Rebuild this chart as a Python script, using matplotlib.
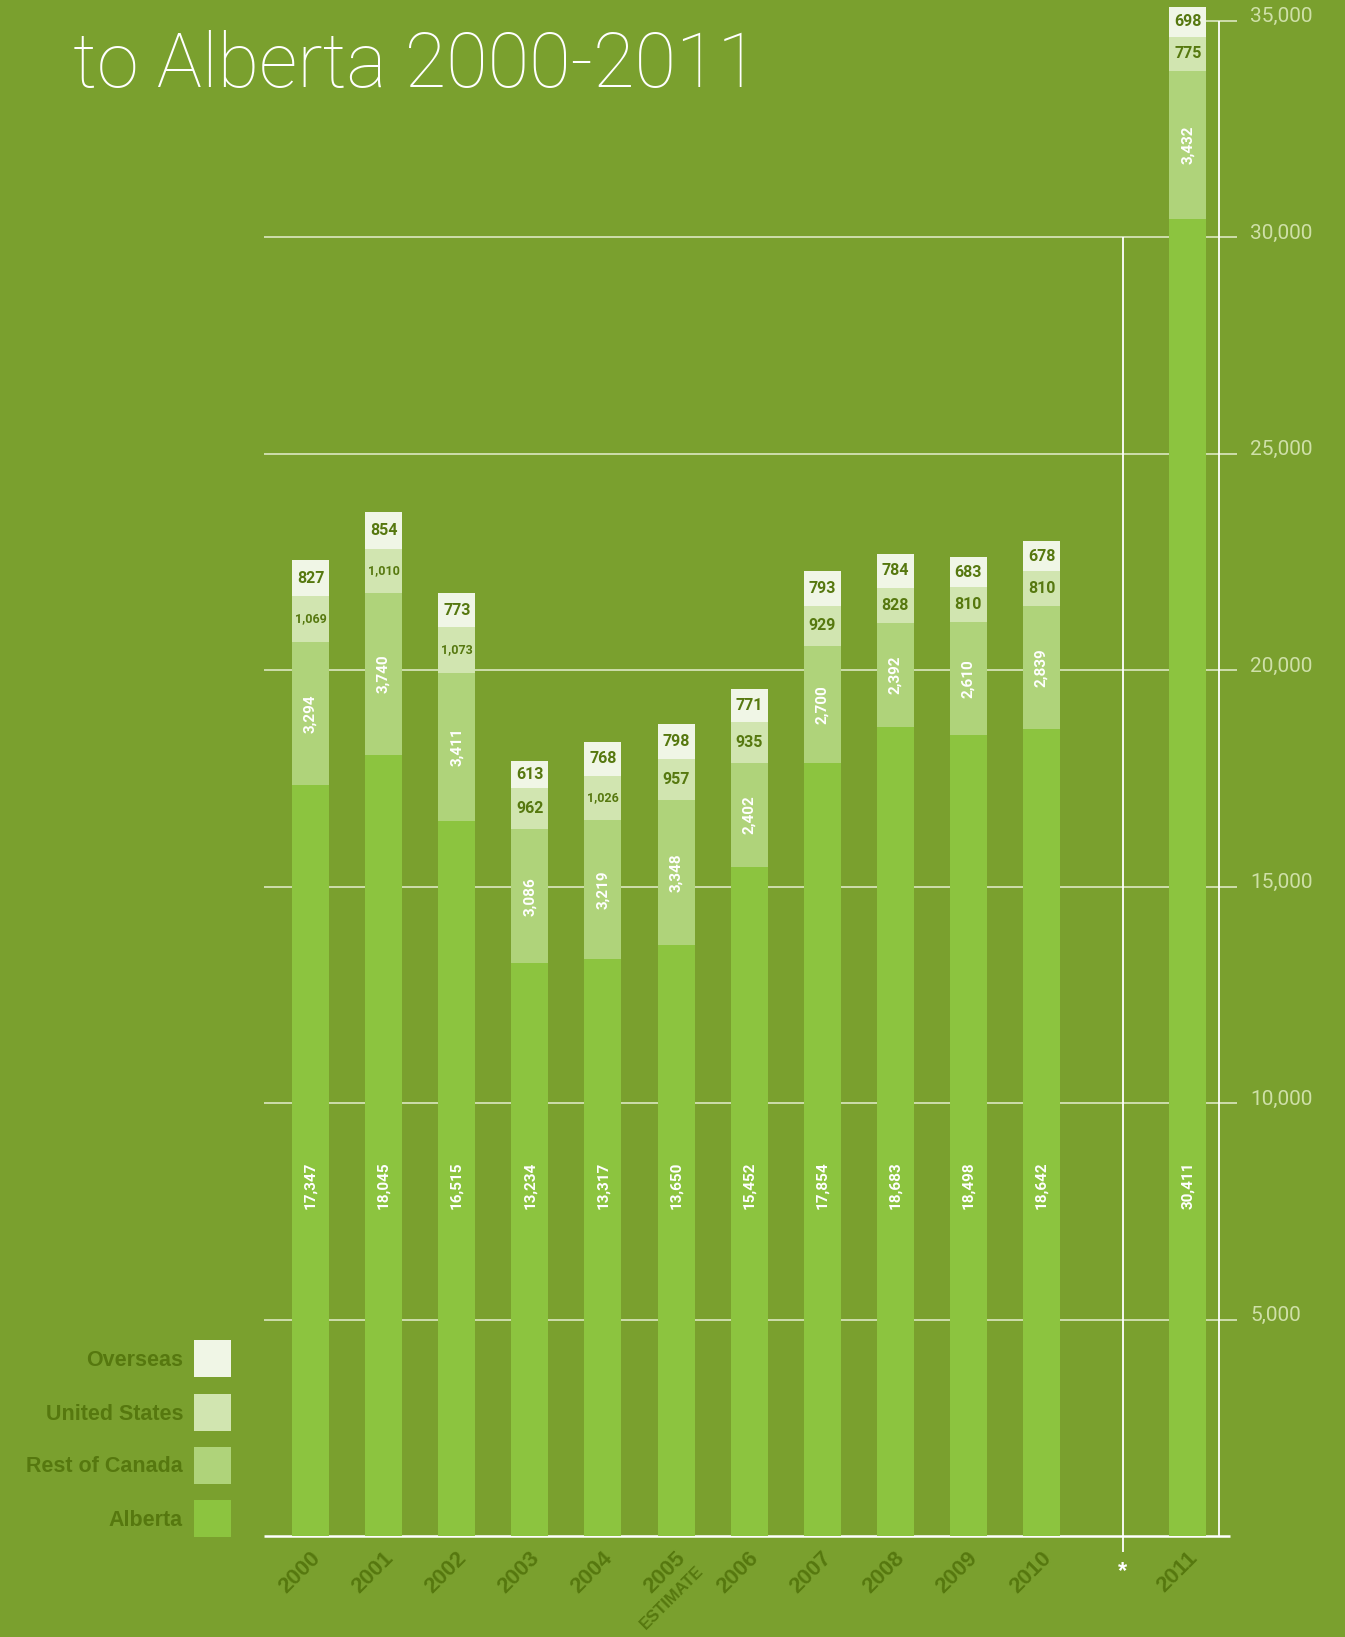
import numpy as np
import matplotlib
matplotlib.use("Agg")
import matplotlib.pyplot as plt
from matplotlib import font_manager
from matplotlib.transforms import offset_copy
from matplotlib.patches import Rectangle

# ---------------- data ----------------
years = ['2000', '2001', '2002', '2003', '2004', '2005', '2006',
         '2007', '2008', '2009', '2010', '2011']
alberta = [17347, 18045, 16515, 13234, 13317, 13650, 15452, 17854, 18683, 18498, 18642, 30411]
rest_of_canada = [3294, 3740, 3411, 3086, 3219, 3348, 2402, 2700, 2392, 2610, 2839, 3432]
united_states = [1069, 1010, 1073, 962, 1026, 957, 935, 929, 828, 810, 810, 775]
overseas = [827, 854, 773, 613, 768, 798, 771, 793, 784, 683, 678, 698]
series_names = ['Alberta', 'Rest of Canada', 'United States', 'Overseas']
yticks = [5000, 10000, 15000, 20000, 25000, 30000, 35000]
title = 'to Alberta 2000-2011'
estimate_note = 'ESTIMATE'

# ---------------- style ----------------
BG = '#7aa02e'
COLORS = ['#8cc43f', '#afd37a', '#d1e5b0', '#f0f6e6']
DARK = '#56780f'
TICKC = '#cfe0a8'
GRIDC = '#d4e2b6'

names = {f.name for f in font_manager.fontManager.ttflist}
def pick(*cands):
    for c in cands:
        if c in names:
            return c
    return 'DejaVu Sans'
NARROW = pick('Liberation Sans Narrow', 'Roboto', 'Liberation Sans')
SANS = pick('Liberation Sans', 'DejaVu Sans')
LIGHT = pick('Roboto', 'Lato', 'DejaVu Sans')

W, H = 1345, 1637
DPI = 100
fig = plt.figure(figsize=(W / DPI, H / DPI), dpi=DPI, facecolor=BG)
ax = fig.add_axes([0, 0, 1, 1])
ax.set_facecolor(BG)
ax.axis('off')

# layout: pixel geometry of the reference
X0 = 310.5      # px of first bar centre
SLOT = 73.1     # px per category slot
Y0 = 1536.0     # px (from top) of the zero line
PXK = 43.3      # px per 1000 units
ax.set_xlim((0 - X0) / SLOT, (W - X0) / SLOT)
ax.set_ylim(-(H - Y0) / PXK * 1000, Y0 / PXK * 1000)

def px_x(px):
    return (px - X0) / SLOT

# positions: a gap slot between 2010 and 2011
pos = np.array([i if i < 11 else i + 1 for i in range(len(years))], dtype=float)
bw = 37 / SLOT

# gridlines
grid_left, grid_right = px_x(264), px_x(1237)
for v in yticks:
    if v == 35000:
        ax.hlines(v, px_x(1190), grid_right, color=GRIDC, lw=1.3, zorder=1)
    else:
        ax.hlines(v, grid_left, grid_right, color=GRIDC, lw=1.3, zorder=1)
ax.hlines(0, grid_left, px_x(1230), color='white', lw=1.8, zorder=1)
# vertical dividers
ax.vlines(px_x(1219), 0, 35000, color='white', lw=1.3, zorder=1)
ax.vlines(px_x(1123), -16 / PXK * 1000, 30000, color='white', lw=1.3, zorder=1)

# stacked bars
stack = [alberta, rest_of_canada, united_states, overseas]
bottom = np.zeros(len(years))
for vals, col in zip(stack, COLORS):
    ax.bar(pos, vals, bw, bottom=bottom, color=col, zorder=2, linewidth=0)
    bottom = bottom + np.array(vals)

# value labels
alberta_label_y = 8100
for i, p in enumerate(pos):
    ax.text(p, alberta_label_y, f'{alberta[i]:,}', rotation=90, ha='center', va='center',
            color='white', fontsize=11, fontweight='bold', family=NARROW, zorder=3)
    b = alberta[i]
    ax.text(p, b + rest_of_canada[i] / 2, f'{rest_of_canada[i]:,}', rotation=90,
            ha='center', va='center', color='white', fontsize=11, fontweight='bold',
            family=NARROW, zorder=3)
    b += rest_of_canada[i]
    us_fs = 9 if united_states[i] >= 1000 else 11.5
    ax.text(p, b + united_states[i] / 2, f'{united_states[i]:,}', ha='center', va='center',
            color=DARK, fontsize=us_fs, fontweight='bold', family=NARROW, zorder=3)
    b += united_states[i]
    ax.text(p, b + overseas[i] / 2, f'{overseas[i]:,}', ha='center', va='center',
            color=DARK, fontsize=11.5, fontweight='bold', family=NARROW, zorder=3)

# x tick labels
for i, p in enumerate(pos):
    tr = offset_copy(ax.transData, fig=fig, x=-1, y=-12, units='dots')
    ax.text(p, 0, years[i], rotation=45, rotation_mode='anchor', ha='right', va='top',
            color=DARK, fontsize=16, fontweight='bold', family=SANS, transform=tr)
    if years[i] == '2005':
        tr2 = offset_copy(ax.transData, fig=fig, x=20, y=-27, units='dots')
        ax.text(p, 0, estimate_note, rotation=45, rotation_mode='anchor', ha='right',
                va='top', color=DARK, fontsize=12, fontweight='bold', family=SANS,
                transform=tr2)

# asterisk
tra = offset_copy(ax.transData, fig=fig, x=0, y=-36, units='dots')
ax.text(px_x(1123), 0, '*', ha='center', va='center', color='white', fontsize=17,
        fontweight='bold', family=SANS, transform=tra)

# y tick labels
for v in yticks:
    tr = offset_copy(ax.transData, fig=fig, x=0, y=4, units='dots')
    ax.text(px_x(1250), v, f'{v:,}', ha='left', va='center', color=TICKC, fontsize=15,
            fontweight='normal', family=LIGHT, transform=tr)

# legend (manual, stacked like the bars)
sq = 37
centers = [1518, 1465, 1412, 1358]
for name, col, cy in zip(series_names, COLORS, centers):
    fig.patches.append(Rectangle((194 / W, 1 - (cy + sq / 2) / H), sq / W, sq / H,
                                 transform=fig.transFigure, facecolor=col,
                                 edgecolor='none', figure=fig))
    fig.text(183 / W, 1 - (cy + 2) / H, name, ha='right', va='center', color=DARK,
             fontsize=15.5, fontweight='bold', family=SANS)

# title
fig.text(73 / W, 1 - 87 / H, title, ha='left', va='baseline', color='white',
         fontsize=54.5, fontweight='light', family=LIGHT)

fig.savefig('out.png', dpi=DPI, facecolor=BG)
